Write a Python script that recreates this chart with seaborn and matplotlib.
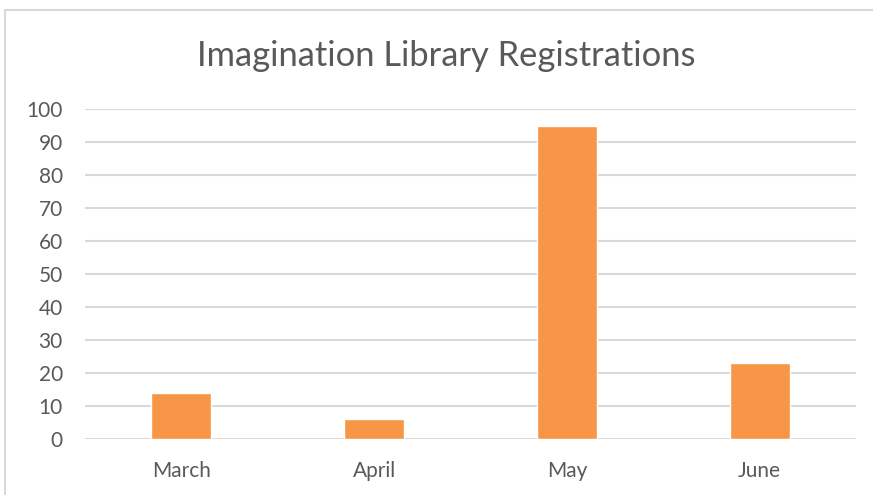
import matplotlib
matplotlib.use("Agg")
import matplotlib.pyplot as plt
import seaborn as sns
import pandas as pd
from matplotlib.patches import Rectangle

months = ["March", "April", "May", "June"]
registrations = [14, 6, 95, 23]
yticks = [0, 10, 20, 30, 40, 50, 60, 70, 80, 90, 100]

sns.set_theme(style="white")
plt.rcParams['font.family'] = ['Lato', 'DejaVu Sans']

df = pd.DataFrame({"Month": months, "Registrations": registrations})

fig = plt.figure(figsize=(8.73, 4.95), dpi=100)
ax = fig.add_axes([85/873, 1-439/495, (856-85)/873, (439-109)/495])

sns.barplot(data=df, x="Month", y="Registrations", color="#F79646",
            width=0.31, saturation=1, ax=ax, zorder=3)

ax.set_ylim(0, 100)
ax.set_xlim(-0.5, 3.5)
ax.set_yticks(yticks)
ax.yaxis.grid(True, color="#d9d9d9", linewidth=1.5, zorder=0)
ax.set_axisbelow(True)
for s in ax.spines.values():
    s.set_visible(False)
ax.set_xlabel("")
ax.set_ylabel("")
ax.tick_params(axis="both", length=0, labelsize=15, colors="#595959")
ax.tick_params(axis="x", pad=16)
ax.tick_params(axis="y", pad=16)

fig.text(446/873, 1-56/495, "Imagination Library Registrations", ha="center", va="center",
         fontsize=24.8, color="#595959")

fig.patches.append(Rectangle((5/873, -0.05), 2, 1.05-10/495, transform=fig.transFigure,
                             fill=False, edgecolor="#d9d9d9", linewidth=1.5))

fig.savefig("out.png", dpi=100)
